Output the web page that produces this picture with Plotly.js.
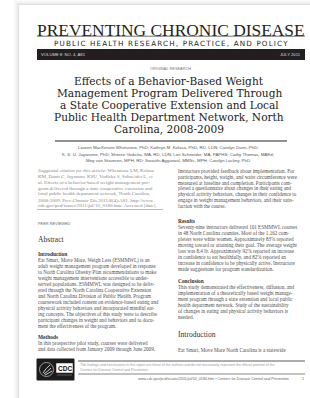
<!DOCTYPE html>
<html>
<head>
<meta charset="utf-8">
<script src="https://cdn.plot.ly/plotly-3.0.1.min.js"></script>
<style>html,body{margin:0;padding:0;background:#fff;}#page{width:310px;height:398px;}</style>
</head>
<body>
<div id="page"></div>
<script>
// ---- content ----
const journalName = "PREVENTING CHRONIC DISEASE";
const journalTagline = "PUBLIC HEALTH RESEARCH, PRACTICE, AND POLICY";
const issueLabel = "VOLUME 8: NO. 4, A81";
const issueDate = "JULY 2011";
const sectionLabel = "ORIGINAL RESEARCH";
const titleLines = [
  "Effects of a Behavior-Based Weight",
  "Management Program Delivered Through",
  "a State Cooperative Extension and Local",
  "Public Health Department Network, North",
  "Carolina, 2008-2009"
];
const authorLines = [
  "Lauren MacKenzie Whetstone, PhD; Kathryn M. Kolasa, PhD, RD, LDN; Carolyn Dunn, PhD;",
  "K. S. U. Jayaratne, PhD; Sheree Vodicka, MA, RD, LDN; Lori Schneider, MA, PAPHS; Cathy Thomas, MAEd;",
  "Meg van Staveren, MPH, RD; Swasthi Aggarwal, MMSc, MPH; Carolyn Lackey, PhD"
];
const citationLines = [
  "<i>Suggested citation for this article:</i> Whetstone LM, Kolasa",
  "KM, Dunn C, Jayaratne KSU, Vodicka S, Schneider L, et",
  "al. Effects of a behavior-based weight management pro-",
  "gram delivered through a state cooperative extension and",
  "local public health department network, North Carolina,",
  "2008-2009. Prev Chronic Dis 2011;8(4):A81. http://www.",
  "cdc.gov/pcd/issues/2011/jul/10_0180.htm. Accessed [date]."
];
const methodsContLines = [
  "Instructors provided feedback about implementation. For",
  "participants, height, weight, and waist circumference were",
  "measured at baseline and completion. Participants com-",
  "pleted a questionnaire about changes in their eating and",
  "physical activity behaviors, changes in their confidence to",
  "engage in weight management behaviors, and their satis-",
  "faction with the course."
];
const peerLabel = "PEER REVIEWED";
const abstractHeading = "Abstract";
const introHeading = "Introduction";
const introLines = [
  "Eat Smart, Move More, Weigh Less (ESMMWL) is an",
  "adult weight management program developed in response",
  "to North Carolina Obesity Plan recommendations to make",
  "weight management interventions accessible to under-",
  "served populations. ESMMWL was designed to be deliv-",
  "ered through the North Carolina Cooperative Extension",
  "and North Carolina Division of Public Health. Program",
  "coursework included content on evidence-based eating and",
  "physical activity behaviors and incorporated mindful eat-",
  "ing concepts. The objectives of this study were to describe",
  "participant changes in weight and behaviors and to docu-",
  "ment the effectiveness of the program."
];
const methodsHeading = "Methods";
const methodsLines = [
  "In this prospective pilot study, courses were delivered",
  "and data collected from January 2009 through June 2009."
];
const resultsHeading = "Results";
const resultsLines = [
  "Seventy-nine instructors delivered 101 ESMMWL courses",
  "in 48 North Carolina counties. Most of the 1,162 com-",
  "pleters were white women. Approximately 83% reported",
  "moving toward or attaining their goal. The average weight",
  "loss was 8.4 lb. Approximately 92% reported an increase",
  "in confidence to eat healthfully, and 82% reported an",
  "increase in confidence to be physically active. Instructors",
  "made suggestions for program standardization."
];
const conclusionHeading = "Conclusion";
const conclusionLines = [
  "This study demonstrated the effectiveness, diffusion, and",
  "implementation of a theoretically based weight manage-",
  "ment program through a state extension and local public",
  "health department network. Study of the sustainability",
  "of changes in eating and physical activity behaviors is",
  "needed."
];
const bodyIntroHeading = "Introduction";
const bodyIntroLines = [
  "Eat Smart, Move More North Carolina is a statewide"
];
const disclaimerLines = [
  "The findings and conclusions in this report are those of the authors and do not necessarily represent the official position of the",
  "Centers for Disease Control and Prevention."
];
const footerUrl = "www.cdc.gov/pcd/issues/2011/jul/10_0180.htm \u2022 Centers for Disease Control and Prevention";
const pageNumber = "1";
const logoText = "CDC";

// ---- layout ----
const W = 310, H = 398;
const LX = 37, RX = 177, CX = 171;
const LH = 6.0;
const bodyFont = {family: "Liberation Serif, serif", size: 5.1, color: "#505050"};
const headFont = {family: "Liberation Serif, serif", size: 5.4, color: "#333", weight: "bold"};
const sansSmall = {family: "Liberation Sans, sans-serif", size: 4.4, color: "#555"};

const ann = [];
function put(text, x, y, font, xanchor) {
  ann.push({xref: "x", yref: "y", x: x, y: y, text: text, showarrow: false,
            xanchor: xanchor || "left", yanchor: "middle", font: font, borderpad: 0});
}
function lines(arr, x, y0, dy, font, xanchor) {
  arr.forEach((t, i) => put(t, x, y0 + i * dy, font, xanchor));
}

// masthead
put(journalName, CX, 29.5, {family: "Liberation Serif, serif", size: 17.4, color: "#231f20"}, "center");
put('<span style="letter-spacing:1.15px">' + journalTagline + '</span>', CX, 43, {family: "DejaVu Sans, sans-serif", size: 7.2, color: "#231f20"}, "center");
put(issueLabel, 40, 54.5, {family: "Liberation Sans, sans-serif", size: 4.2, color: "#ddd"}, "left");
put(issueDate, 302, 54.5, {family: "Liberation Sans, sans-serif", size: 4.2, color: "#ddd"}, "right");
put(sectionLabel, 170, 68, {family: "Liberation Sans, sans-serif", size: 3.9, color: "#777"}, "center");

// title
lines(titleLines, 169, 81, 11.9, {family: "DejaVu Serif, serif", size: 10.6, color: "#222"}, "center");

// authors
lines(authorLines, 168, 147.5, 6.5, sansSmall, "center");

// citation + right para
lines(citationLines, LX, 171, 5.8, {family: "Liberation Serif, serif", size: 5.0, color: "#888"}, "left");
lines(methodsContLines, RX, 171, 5.8, bodyFont, "left");

// abstract
put(peerLabel, LX, 223, {family: "Liberation Sans, sans-serif", size: 3.9, color: "#666"}, "left");
put(abstractHeading, LX, 239, {family: "Liberation Serif, serif", size: 7.6, color: "#333"}, "left");
put(introHeading, LX, 254, headFont, "left");
lines(introLines, LX, 260, LH, bodyFont, "left");
put(methodsHeading, LX, 337, headFont, "left");
lines(methodsLines, LX, 343, LH, bodyFont, "left");

put(resultsHeading, RX, 221, headFont, "left");
lines(resultsLines, RX, 227, LH, bodyFont, "left");
put(conclusionHeading, RX, 281, headFont, "left");
lines(conclusionLines, RX, 287, LH, bodyFont, "left");
put(bodyIntroHeading, RX, 334, {family: "Liberation Serif, serif", size: 7.6, color: "#333"}, "left");
lines(bodyIntroLines, RX, 350, LH, bodyFont, "left");

// footer
lines(disclaimerLines, 79, 365, 4.8, {family: "Liberation Sans, sans-serif", size: 3.5, color: "#999"}, "left");
put(footerUrl, 290, 378.5, {family: "Liberation Sans, sans-serif", size: 3.7, color: "#666"}, "right");
put(pageNumber, 305, 378.5, {family: "Liberation Sans, sans-serif", size: 3.9, color: "#666"}, "right");
put("<b>" + logoText + "</b>", 64.5, 368, {family: "Liberation Sans, sans-serif", size: 6.5, color: "#111"}, "center");

const shapes = [
  // page shadow
  {type: "rect", x0: 14, y0: 0.5, x1: 320, y1: 410, fillcolor: "#f6f6f6", line: {width: 0}, layer: "below"},
  {type: "rect", x0: 16.5, y0: 2.5, x1: 320, y1: 410, fillcolor: "#ebebeb", line: {width: 0}, layer: "below"},
  {type: "rect", x0: 18.2, y0: 4.2, x1: 320, y1: 410, fillcolor: "#dcdcdc", line: {width: 0}, layer: "below"},
  {type: "rect", x0: 19, y0: 5, x1: 320, y1: 410, fillcolor: "#ffffff", line: {width: 0}, layer: "below"},
  // title rule
  {type: "line", x0: LX, x1: 305, y0: 36.2, y1: 36.2, line: {color: "#333", width: 0.7}},
  // black band
  {type: "rect", x0: LX, x1: 305, y0: 49, y1: 60, fillcolor: "#231f20", line: {width: 0}},
  // rule under title
  {type: "line", x0: 55, x1: 287, y0: 141, y1: 141, line: {color: "#222", width: 1}},
  // rule under citation
  {type: "line", x0: LX, x1: 163, y0: 209.5, y1: 209.5, line: {color: "#aaa", width: 0.8}},
  // short rule bottom left
  {type: "line", x0: 40, x1: 72, y0: 361.5, y1: 361.5, line: {color: "#555", width: 0.7}},
  // footer rules
  {type: "line", x0: 78, x1: 305, y0: 361, y1: 361, line: {color: "#333", width: 0.8}},
  {type: "line", x0: 78, x1: 305, y0: 374, y1: 374, line: {color: "#333", width: 0.6}},
  // logo
  {type: "rect", x0: 37, x1: 74, y0: 359, y1: 380, fillcolor: "#1c1c1c", line: {color: "#1c1c1c", width: 1}},
  {type: "circle", x0: 39.5, x1: 53.5, y0: 362.5, y1: 376.5, line: {color: "#cfcfcf", width: 0.7}},
  {type: "path", path: "M 43 373 Q 46 368 50 365 M 44 374 Q 48 371 51 368 M 45 375 Q 49 373 52 371", line: {color: "#e0e0e0", width: 0.9}},
  {type: "rect", x0: 56.5, x1: 72.5, y0: 363.5, y1: 372.5, fillcolor: "#ffffff", line: {color: "#ffffff", width: 0.5}},
  {type: "line", x0: 57, x1: 72, y0: 375, y1: 375, line: {color: "#888", width: 0.6}}
];

const layout = {
  width: W, height: H,
  margin: {l: 0, r: 0, t: 0, b: 0, pad: 0},
  paper_bgcolor: "#ffffff", plot_bgcolor: "rgba(0,0,0,0)",
  xaxis: {range: [0, W], visible: false, fixedrange: true},
  yaxis: {range: [H, 0], visible: false, fixedrange: true},
  showlegend: false,
  annotations: ann,
  shapes: shapes
};
Plotly.newPlot("page", [], layout, {staticPlot: true, displayModeBar: false});
</script>
</body>
</html>
